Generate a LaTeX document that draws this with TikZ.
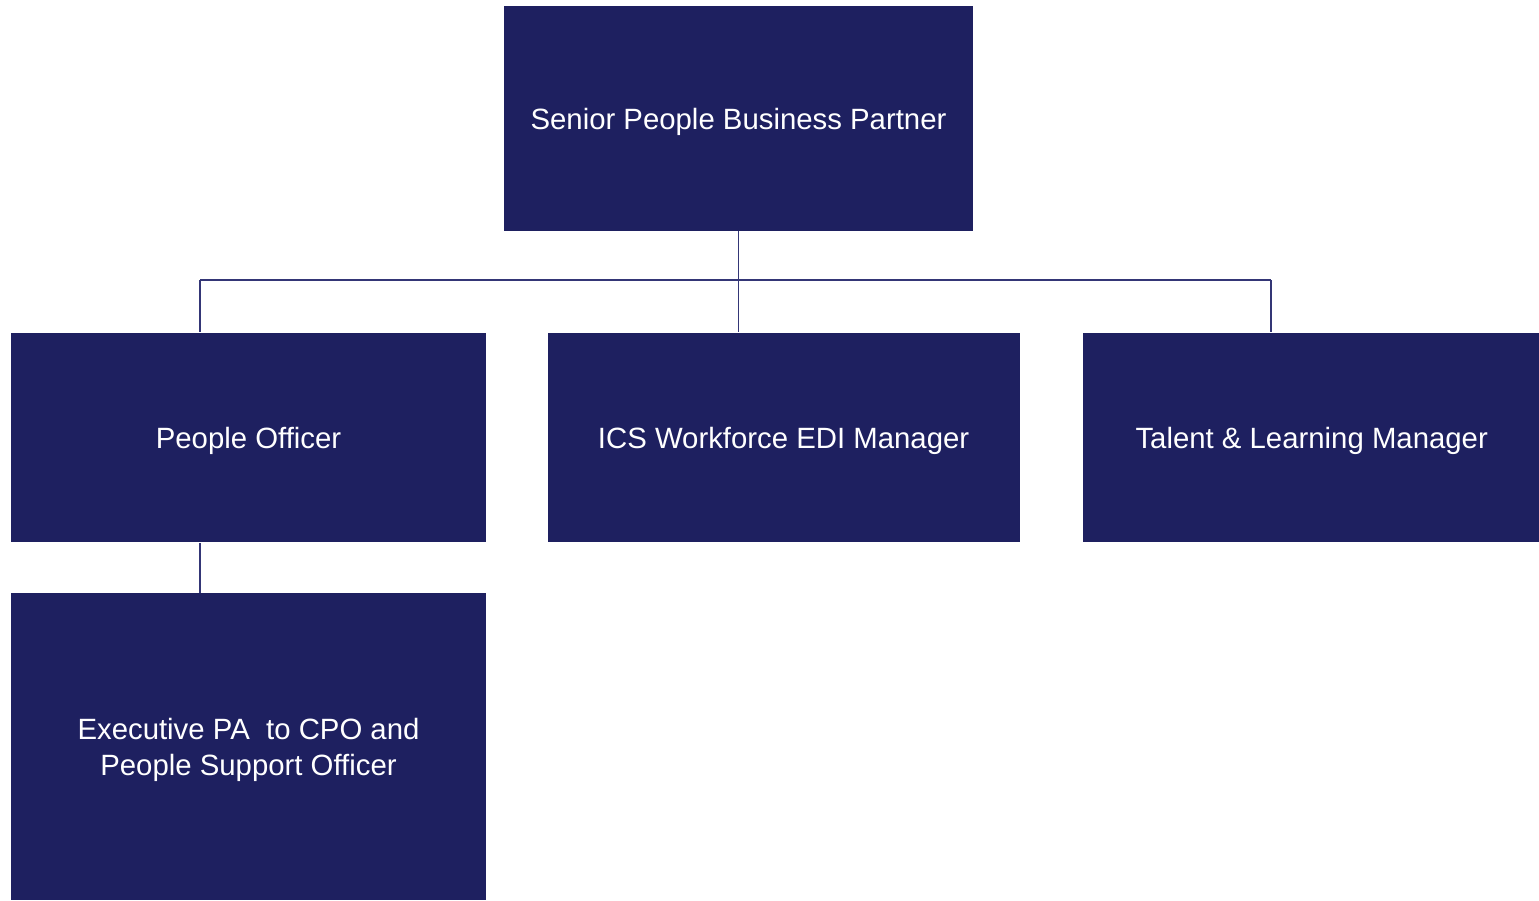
\documentclass[tikz,border=0pt]{standalone}
\usepackage{fontspec}
\setmainfont{Liberation Sans}
\usepackage{xcolor}
\usepackage{tikz}
\usetikzlibrary{positioning}
\definecolor{navy}{RGB}{30,32,96}
\definecolor{linenavy}{RGB}{52,54,118}

\begin{document}
\begin{tikzpicture}[
    x=0.02cm,y=-0.02cm,
    box/.style={rectangle,fill=navy,text=white,align=center,inner sep=0pt,text depth=0pt,
      minimum height=4.2cm,font=\fontsize{16.7pt}{20.3pt}\selectfont},
    ln/.style={linenavy,line width=0.6pt}]
    \useasboundingbox (0,0) rectangle (1539,900);
    \node[box,minimum width=9.38cm,minimum height=4.5cm] (spbp) at (738.5,118.5) {Senior People Business Partner};
    \node[box,minimum width=9.5cm] (po) at (248.5,437.5) {People Officer};
    \node[box,minimum width=9.44cm,right=1.22cm of po] (ics) {ICS Workforce EDI Manager};
    \node[box,minimum width=9.14cm,right=1.26cm of ics] (tlm) {Talent \& Learning Manager};
    \node[box,minimum width=9.5cm,minimum height=6.14cm,below=1cm of po] (epa) {Executive PA~ to CPO and\\People Support Officer};
    \coordinate (busl) at (200,280);
    \coordinate (busr) at (1271,280);
    \draw[ln](busl)--(busr);
    \draw[ln](spbp.south)--(spbp.south |- ics.north);
    \draw[ln](busl)--(busl |- po.north);
    \draw[ln](busr)--(busr |- tlm.north);
    \draw[ln](busl |- po.south)--(busl |- epa.north);
  \end{tikzpicture}
\end{document}
